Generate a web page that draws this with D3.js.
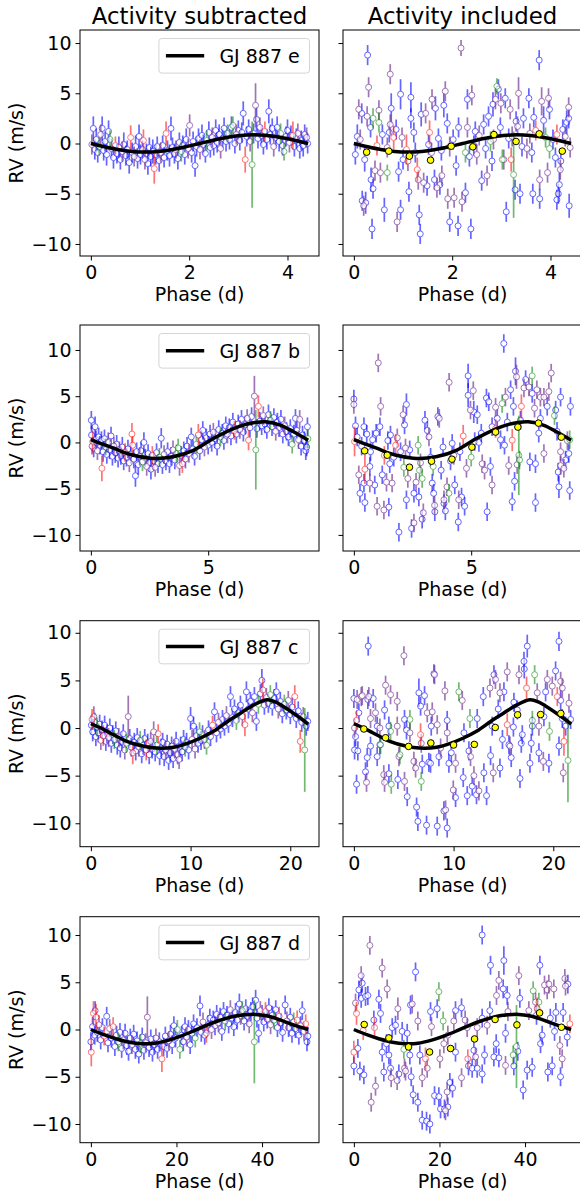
<!DOCTYPE html>
<html>
<head>
<meta charset="utf-8">
<script src="https://cdn.jsdelivr.net/npm/d3@7"></script>
<style>
  body { margin: 0; background: #fff; }
  text { font-family: "DejaVu Sans", sans-serif; }
</style>
</head>
<body>
<div id="chart"></div>
<script>
// planets, orbital periods (phase axis runs 0..P) and tick labels
const planets = ["GJ 887 e", "GJ 887 b", "GJ 887 c", "GJ 887 d"];
const periods = [4.42, 9.26, 21.79, 50.77];
const xTicks = [[0, 2, 4], [0, 5], [0, 10, 20], [0, 20, 40]];
const yTicks = [-10, -5, 0, 5, 10];
const yLimits = [[-11.2, 11.3], [-11.74, 12.7], [-12.46, 11.27], [-11.98, 11.94]];
const columnTitles = ["Activity subtracted", "Activity included"];

// model curves: [phase, rv]
const curveE = [[0,0],[0.28,-0.33],[0.55,-0.6],[0.83,-0.79],[1.1,-0.85],[1.38,-0.79],[1.66,-0.6],[1.93,-0.33],[2.21,0],[2.49,0.33],[2.76,0.6],[3.04,0.79],[3.32,0.86],[3.59,0.79],[3.87,0.6],[4.14,0.33],[4.42,0]];
const curveB = [[0,0.3],[0.5,-0.18],[1,-0.65],[1.5,-1.15],[2,-1.5],[2.67,-1.73],[3.5,-1.55],[4.37,-0.85],[5.2,0.4],[6.08,1.5],[6.6,1.95],[6.93,2.13],[7.43,2.24],[8.07,1.88],[8.64,1.16],[9.26,0.25]];
const curveC = [[0,0.45],[1,0.0],[1.94,-0.52],[3.6,-1.4],[5.3,-1.92],[6.6,-2.1],[8.3,-2.02],[9.6,-1.64],[11,-1.05],[12.3,-0.35],[14,0.9],[15,1.55],[16.3,2.4],[17.65,2.97],[18.5,2.75],[19.3,2.27],[21,1.05],[21.79,0.42]];
const curveD = [[0,0],[3,-0.55],[6,-1.0],[9,-1.35],[12,-1.5],[15,-1.45],[18,-1.15],[21,-0.7],[24,-0.15],[27,0.45],[30,0.95],[33,1.35],[36,1.55],[38.5,1.6],[41,1.45],[44,1.05],[47,0.55],[50.77,0]];

// binned (yellow) points of the activity-included panels: [phase, rv]
const binE = [[0.26,-0.86],[0.71,-0.76],[1.13,-1.26],[1.56,-1.66],[1.98,-0.27],[2.42,-0.33],[2.85,0.89],[3.3,0.2],[3.77,0.96],[4.24,-0.76]];
const binB = [[0.46,-0.91],[1.42,-1.38],[2.37,-2.68],[3.31,-2.03],[4.18,-1.81],[5.03,-0.51],[6.04,1.12],[6.99,1.66],[7.87,2.09],[8.84,0.57]];
const binC = [[1.0,-0.1],[3.18,-1.02],[5.49,-1.93],[7.72,-1.57],[10.0,-1.78],[12.08,-1.72],[14.18,0.06],[16.42,1.39],[18.73,1.42],[20.76,1.53]];
const binD = [[2.42,0.53],[8.18,-0.89],[12.78,-1.85],[17.7,-2.38],[22.6,-2.01],[28.2,-1.0],[33.0,1.06],[38.1,0.49],[43.4,1.76],[48.5,0.24]];

// RV points: [phase, rv, error, instrument]  (b / p / r / g)
const subE = [[0.02,-0.1,1.0,"p"],[0.05,1.5,1.2,"b"],[0.08,-0.6,1.0,"b"],[0.11,0.4,1.1,"b"],[0.14,-0.9,1.0,"b"],[0.17,-0.3,0.9,"g"],[0.2,0.9,1.0,"p"],[0.23,1.5,1.2,"b"],[0.26,-0.7,1.0,"b"],[0.29,0.2,1.0,"b"],[0.32,-1.1,1.1,"b"],[0.36,1.2,1.1,"b"],[0.39,0.4,0.9,"g"],[0.42,-0.5,1.0,"b"],[0.46,-1.4,1.1,"b"],[0.5,-0.2,0.9,"r"],[0.53,-1.0,1.0,"b"],[0.57,-0.4,1.1,"b"],[0.6,-1.6,1.0,"b"],[0.64,-0.8,1.0,"p"],[0.67,-0.1,1.2,"b"],[0.71,-1.2,1.0,"b"],[0.74,-0.6,0.9,"b"],[0.78,-1.9,1.1,"b"],[0.81,0.6,1.2,"r"],[0.84,-0.9,1.0,"b"],[0.88,-1.3,1.0,"p"],[0.91,-0.3,1.1,"b"],[0.95,-1.5,1.0,"b"],[0.98,0.7,1.2,"b"],[1.01,-1.1,1.0,"b"],[1.05,-0.6,0.9,"b"],[1.07,0.3,1.1,"r"],[1.1,-1.6,1.0,"p"],[1.13,-1.0,1.0,"b"],[1.16,-2.0,1.1,"b"],[1.19,-0.4,1.0,"b"],[1.22,-1.3,1.0,"b"],[1.26,-0.8,1.2,"b"],[1.29,-2.5,1.5,"r"],[1.32,-1.1,1.0,"b"],[1.35,-0.3,1.0,"b"],[1.39,-1.7,1.1,"b"],[1.42,-0.9,1.0,"p"],[1.46,-0.2,1.0,"b"],[1.49,-1.4,1.0,"b"],[1.53,1.0,1.2,"r"],[1.56,-0.7,1.0,"b"],[1.6,-1.2,1.1,"b"],[1.63,1.5,1.2,"b"],[1.66,-0.4,1.0,"b"],[1.7,-1.0,1.0,"b"],[1.73,-0.6,0.9,"p"],[1.77,-1.5,1.1,"b"],[1.8,0.1,1.0,"b"],[1.84,-0.8,1.0,"g"],[1.87,-0.2,1.0,"b"],[1.91,-1.1,1.0,"b"],[1.94,0.4,1.1,"b"],[1.98,-0.5,1.0,"p"],[2.01,1.8,1.1,"p"],[2.05,-0.9,1.0,"b"],[2.08,0.2,1.0,"b"],[2.12,-2.2,1.1,"b"],[2.15,-0.3,1.0,"b"],[2.19,0.5,1.0,"b"],[2.22,-0.6,1.0,"p"],[2.26,0.8,1.1,"b"],[2.29,-0.1,1.0,"b"],[2.33,-1.0,0.9,"b"],[2.36,0.3,1.0,"g"],[2.4,1.1,1.1,"b"],[2.43,-0.4,1.0,"b"],[2.47,0.6,1.0,"p"],[2.5,-0.2,1.0,"b"],[2.54,1.3,1.1,"b"],[2.57,0.1,1.0,"b"],[2.61,0.9,1.0,"b"],[2.64,-0.5,1.0,"p"],[2.68,0.5,1.0,"b"],[2.71,1.5,1.1,"b"],[2.75,0.2,1.0,"b"],[2.78,1.0,0.9,"g"],[2.82,0.4,1.0,"b"],[2.86,1.6,1.1,"b"],[2.89,1.8,0.9,"g"],[2.93,0.0,1.0,"b"],[2.96,0.9,1.0,"p"],[3.0,1.3,1.0,"b"],[3.03,0.3,1.0,"b"],[3.07,1.1,1.0,"b"],[3.1,3.0,1.2,"b"],[3.14,-1.6,1.3,"r"],[3.17,0.7,1.0,"b"],[3.21,1.4,1.0,"b"],[3.24,0.2,1.0,"p"],[3.28,-2.1,4.3,"g"],[3.31,1.0,1.0,"b"],[3.35,3.8,2.2,"p"],[3.37,2.4,1.2,"b"],[3.4,0.5,1.0,"b"],[3.44,1.6,1.0,"p"],[3.47,0.8,1.0,"b"],[3.51,-0.1,1.0,"b"],[3.54,1.2,1.0,"r"],[3.58,0.4,1.0,"b"],[3.62,3.2,1.2,"b"],[3.65,0.9,1.0,"b"],[3.69,1.5,1.0,"b"],[3.72,-0.3,1.0,"p"],[3.76,0.6,1.0,"b"],[3.79,1.6,1.1,"b"],[3.83,0.2,1.0,"b"],[3.86,1.0,1.0,"g"],[3.9,-0.2,1.0,"b"],[3.93,-0.8,0.9,"g"],[3.97,0.7,1.0,"b"],[4.0,1.3,1.1,"b"],[4.04,0.1,1.0,"p"],[4.07,0.8,1.0,"b"],[4.11,0.8,1.4,"r"],[4.14,-0.3,1.0,"b"],[4.18,0.5,1.0,"b"],[4.21,1.0,1.0,"p"],[4.25,-0.5,1.0,"b"],[4.28,0.3,1.0,"b"],[4.32,-0.2,1.1,"b"],[4.35,0.9,1.0,"b"],[4.39,0.6,1.0,"p"],[4.41,0.0,1.0,"b"]];

const subB = [[0.02,2.4,1.0,"b"],[0.03,0.8,1.0,"b"],[0.05,-0.4,0.9,"p"],[0.08,0.1,1.2,"r"],[0.12,-0.6,1.0,"b"],[0.18,1.7,1.1,"b"],[0.22,0.3,1.0,"b"],[0.28,-0.9,1.0,"p"],[0.33,0.6,1.0,"b"],[0.38,-0.3,1.0,"b"],[0.47,-2.8,1.4,"r"],[0.45,0.2,1.0,"b"],[0.52,-1.0,1.1,"b"],[0.58,0.4,1.0,"b"],[0.63,-0.5,0.9,"g"],[0.68,-1.3,1.0,"b"],[0.74,0.0,1.1,"p"],[0.8,-0.8,1.0,"b"],[0.86,0.7,1.0,"b"],[0.92,-1.5,1.0,"b"],[0.98,-0.4,1.0,"p"],[1.04,-1.1,1.1,"b"],[1.1,-0.2,1.0,"b"],[1.16,-1.7,1.0,"b"],[1.22,-0.9,1.0,"p"],[1.28,-1.4,1.0,"b"],[1.34,-0.5,1.1,"b"],[1.4,-2.0,1.0,"b"],[1.46,-1.1,1.0,"r"],[1.52,-1.6,1.0,"b"],[1.58,-0.7,1.0,"b"],[1.64,-2.2,1.0,"p"],[1.7,-1.3,1.0,"b"],[1.75,0.9,1.2,"r"],[1.78,-0.3,1.0,"r"],[1.83,-1.8,1.0,"b"],[1.9,-3.6,1.2,"b"],[1.95,-1.0,1.0,"b"],[2.02,-2.4,1.1,"b"],[2.08,-1.5,1.0,"p"],[2.14,-0.9,1.0,"b"],[2.2,-2.1,1.0,"g"],[2.26,0.0,1.1,"b"],[2.32,-1.7,1.0,"b"],[2.38,-2.6,1.0,"p"],[2.44,-1.2,1.0,"b"],[2.5,-2.2,1.0,"b"],[2.56,-2.9,1.1,"b"],[2.62,-1.4,1.0,"r"],[2.68,-2.0,1.0,"b"],[2.74,-2.7,1.0,"p"],[2.8,-1.1,1.0,"b"],[2.86,-2.3,1.0,"b"],[2.92,-1.6,1.0,"g"],[3.0,0.45,1.1,"b"],[3.05,-2.4,1.0,"b"],[3.12,-1.3,1.0,"p"],[3.2,-2.0,1.0,"b"],[3.27,-1.0,1.0,"b"],[3.35,-2.3,1.0,"b"],[3.42,-1.5,1.0,"b"],[3.5,-0.8,1.0,"p"],[3.58,-1.9,1.0,"b"],[3.65,-1.2,1.0,"g"],[3.72,-0.6,1.0,"g"],[3.78,-2.5,1.1,"p"],[3.85,-1.4,1.0,"b"],[3.9,-2.3,1.0,"r"],[3.96,-0.9,1.0,"b"],[4.03,-1.8,1.0,"b"],[4.1,-0.4,1.0,"b"],[4.18,-1.2,1.0,"p"],[4.28,0.6,1.0,"b"],[4.35,-0.7,1.0,"b"],[4.42,-1.5,1.0,"b"],[4.5,-0.2,1.0,"g"],[4.58,0.8,1.2,"r"],[4.64,-0.9,1.0,"b"],[4.72,0.3,1.0,"b"],[4.77,1.3,1.0,"b"],[4.84,-0.5,1.0,"p"],[4.92,0.5,1.0,"b"],[5.0,-0.3,1.0,"b"],[5.08,0.9,1.0,"b"],[5.15,0.0,1.0,"b"],[5.22,1.1,1.0,"p"],[5.3,0.4,1.0,"b"],[5.38,-0.4,1.0,"b"],[5.45,1.4,1.0,"b"],[5.52,0.6,1.0,"g"],[5.6,1.0,1.0,"b"],[5.67,0.2,1.0,"b"],[5.75,1.8,1.0,"b"],[5.82,0.9,1.0,"p"],[5.9,1.6,1.0,"b"],[5.97,0.7,1.0,"b"],[6.05,2.2,1.0,"b"],[6.12,1.3,1.0,"r"],[6.2,0.9,1.0,"b"],[6.28,2.0,1.0,"b"],[6.35,1.4,1.0,"p"],[6.42,2.5,1.0,"b"],[6.5,1.1,1.0,"b"],[6.58,1.9,1.0,"b"],[6.66,2.6,1.0,"p"],[6.72,0.25,1.1,"r"],[6.78,1.6,1.0,"b"],[6.85,2.8,1.0,"b"],[6.97,5.0,2.2,"p"],[7.03,-0.8,4.3,"g"],[7.08,1.5,1.0,"b"],[7.14,3.9,1.2,"r"],[7.2,2.3,1.0,"b"],[7.28,1.8,1.0,"b"],[7.35,2.9,1.0,"p"],[7.42,2.0,1.0,"b"],[7.5,1.4,1.0,"b"],[7.57,3.0,1.1,"b"],[7.65,2.4,1.0,"g"],[7.72,1.7,1.0,"b"],[7.8,2.7,1.0,"b"],[7.88,1.2,1.0,"p"],[7.95,2.2,1.0,"b"],[8.02,1.6,1.0,"b"],[8.1,2.5,1.0,"b"],[8.18,0.9,1.0,"b"],[8.26,1.8,1.0,"p"],[8.34,1.2,1.0,"b"],[8.42,0.6,1.0,"b"],[8.5,1.5,1.0,"b"],[8.58,-0.2,1.0,"g"],[8.65,0.9,1.0,"b"],[8.72,2.6,1.0,"b"],[8.78,1.3,1.0,"b"],[8.85,0.3,1.0,"p"],[8.9,2.5,1.0,"p"],[8.96,-0.4,1.0,"b"],[9.02,0.8,1.0,"b"],[9.1,0.2,1.0,"b"],[9.16,-0.9,1.0,"b"],[9.2,-0.5,1.0,"b"],[9.23,1.7,1.0,"b"],[9.25,0.4,1.0,"g"]];

const subC = [[0.05,0.3,1.0,"b"],[0.12,0.9,1.1,"r"],[0.18,-0.4,1.0,"b"],[0.3,1.2,1.1,"p"],[0.4,0.6,1.0,"b"],[0.5,-0.9,1.0,"b"],[0.62,0.1,1.0,"g"],[0.75,-0.5,1.0,"b"],[0.88,0.4,1.0,"b"],[1.0,-1.3,1.0,"p"],[1.12,-0.2,1.0,"b"],[1.25,-0.8,1.1,"r"],[1.38,0.3,1.0,"b"],[1.5,-1.4,1.0,"b"],[1.62,-0.6,1.0,"b"],[1.78,-1.0,1.0,"p"],[1.9,0.0,1.0,"b"],[2.05,-1.6,1.0,"b"],[2.2,-0.7,1.0,"b"],[2.35,-1.2,1.0,"g"],[2.5,-0.3,1.0,"b"],[2.65,-1.8,1.0,"b"],[2.8,-1.0,1.0,"p"],[2.95,-2.1,1.0,"b"],[3.1,-1.4,1.0,"b"],[3.25,-0.6,1.0,"b"],[3.4,-2.3,1.0,"p"],[3.55,-1.6,1.0,"g"],[3.75,1.2,2.2,"p"],[3.9,-1.1,1.0,"b"],[4.05,-2.0,1.0,"b"],[4.2,-2.6,1.2,"r"],[4.35,-1.5,1.0,"b"],[4.5,-2.4,1.0,"b"],[4.65,-1.0,1.0,"b"],[4.8,-2.0,1.0,"p"],[4.95,-1.3,1.0,"g"],[5.1,-2.7,1.0,"b"],[5.25,-1.8,1.0,"b"],[5.4,-1.1,1.0,"b"],[5.55,-2.3,1.1,"r"],[5.7,-1.6,1.0,"b"],[5.85,-2.8,1.0,"b"],[6.0,-1.4,1.0,"p"],[6.15,-2.2,1.0,"b"],[6.3,-0.4,1.1,"p"],[6.45,-2.5,1.0,"b"],[6.6,-1.8,1.0,"g"],[6.75,-0.6,1.0,"r"],[6.9,-2.9,1.0,"b"],[7.05,-2.1,1.0,"b"],[7.2,-1.5,1.0,"b"],[7.35,-3.0,1.0,"b"],[7.5,-2.3,1.0,"p"],[7.65,-1.7,1.0,"b"],[7.8,-3.4,1.0,"b"],[7.95,-2.6,1.0,"b"],[8.1,-1.9,1.0,"b"],[8.25,-3.2,1.0,"b"],[8.4,-2.2,1.0,"p"],[8.55,-1.4,1.0,"b"],[8.7,-2.8,1.0,"b"],[8.85,-3.3,1.0,"p"],[9.0,-1.9,1.0,"b"],[9.15,-2.5,1.0,"b"],[9.3,-1.2,1.0,"b"],[9.45,-2.0,1.0,"g"],[9.6,-1.5,1.0,"b"],[9.8,-2.3,1.0,"b"],[10.0,1.0,1.2,"b"],[10.15,-1.2,1.0,"p"],[10.3,0.2,1.0,"b"],[10.45,-2.2,1.0,"p"],[10.6,-0.8,1.0,"b"],[10.75,-1.6,1.0,"b"],[10.9,-0.4,1.0,"g"],[11.05,-1.3,1.0,"b"],[11.2,-0.7,1.0,"b"],[11.4,-1.2,1.0,"p"],[11.6,-1.8,1.0,"g"],[11.8,-0.2,1.0,"b"],[12.0,-0.9,1.0,"b"],[12.2,0.3,1.0,"r"],[12.4,1.7,1.0,"b"],[12.6,-0.5,1.0,"b"],[12.8,0.6,1.0,"p"],[13.0,-0.1,1.0,"b"],[13.2,0.9,1.0,"b"],[13.4,0.2,1.0,"b"],[13.6,1.3,1.0,"p"],[13.8,0.5,1.0,"b"],[14.0,3.3,1.1,"b"],[14.2,1.1,1.0,"b"],[14.4,2.0,1.0,"b"],[14.6,0.8,1.0,"g"],[14.8,1.6,1.0,"b"],[15.0,2.4,1.0,"b"],[15.2,1.2,1.0,"p"],[15.45,0.35,1.2,"r"],[15.6,3.8,1.1,"b"],[15.8,2.0,1.0,"b"],[16.0,2.8,1.0,"b"],[16.2,1.6,1.0,"p"],[16.4,3.3,1.0,"b"],[16.6,0.7,1.0,"b"],[16.8,2.5,1.0,"g"],[17.0,3.6,1.0,"b"],[17.15,5.0,1.2,"b"],[17.25,4.0,1.2,"r"],[17.4,2.4,1.0,"b"],[17.6,3.2,1.0,"p"],[17.8,2.6,1.0,"b"],[18.0,3.5,1.0,"g"],[18.2,2.3,1.0,"b"],[18.4,3.1,1.0,"b"],[18.6,3.8,1.0,"b"],[18.8,2.0,1.0,"p"],[19.0,2.8,1.0,"b"],[19.2,1.5,1.0,"b"],[19.4,2.5,1.0,"g"],[19.6,1.9,1.0,"b"],[19.8,2.9,1.0,"p"],[20.0,1.4,1.0,"b"],[20.2,2.2,1.0,"b"],[20.45,3.3,1.2,"r"],[20.6,1.0,1.0,"b"],[20.8,1.8,1.0,"b"],[21.0,-1.4,1.2,"r"],[21.15,0.6,1.0,"b"],[21.3,1.2,1.0,"p"],[21.45,-2.3,4.4,"g"],[21.6,0.2,1.0,"b"],[21.75,0.7,1.0,"b"]];

const subD = [[0.0,-1.3,1.0,"b"],[0.1,-2.4,1.5,"r"],[0.4,0.3,1.0,"b"],[0.6,1.7,1.3,"r"],[0.9,-0.6,1.0,"b"],[1.0,2.0,1.0,"b"],[1.2,1.3,1.4,"r"],[1.5,-0.3,1.0,"b"],[1.9,0.5,1.0,"p"],[2.3,-1.1,1.0,"b"],[2.7,0.2,1.0,"b"],[3.1,-0.7,1.0,"r"],[3.7,1.4,1.0,"b"],[4.0,-1.4,1.0,"b"],[4.4,0.1,1.0,"p"],[4.8,-0.9,1.0,"b"],[5.2,0.3,1.0,"r"],[5.6,-1.8,1.0,"b"],[6.0,-0.6,1.0,"b"],[6.4,-1.3,1.0,"g"],[6.8,-0.3,1.0,"b"],[7.2,-2.0,1.0,"b"],[7.6,-1.1,1.0,"p"],[8.0,-0.4,1.0,"b"],[8.4,-1.7,1.0,"b"],[8.8,-2.3,1.0,"b"],[9.2,-0.9,1.0,"b"],[9.6,-1.6,1.0,"p"],[10.0,-0.5,1.0,"b"],[10.4,-2.1,1.0,"b"],[10.8,-1.2,1.0,"b"],[11.2,-2.6,1.0,"b"],[11.6,-1.5,1.0,"g"],[12.0,-0.8,1.0,"b"],[12.4,-2.2,1.0,"b"],[12.8,-1.4,1.0,"p"],[13.2,1.3,2.2,"p"],[13.6,-1.9,1.0,"b"],[14.0,-1.0,1.0,"b"],[14.4,-2.4,1.0,"b"],[14.8,-1.6,1.0,"b"],[15.2,-0.9,1.0,"p"],[15.6,-2.1,1.0,"b"],[16.0,-1.3,1.0,"b"],[16.6,-3.1,1.4,"r"],[17.0,-1.8,1.0,"b"],[17.4,-0.7,1.0,"b"],[17.8,-2.0,1.0,"b"],[18.2,-1.2,1.0,"p"],[18.6,-0.5,1.0,"b"],[19.0,-1.6,1.0,"b"],[19.4,0.4,1.0,"b"],[19.8,-0.9,1.0,"b"],[20.2,0.0,1.0,"g"],[20.8,-2.1,1.0,"g"],[21.2,-0.6,1.0,"b"],[21.6,-1.3,1.0,"b"],[22.0,0.3,1.0,"b"],[22.4,-0.8,1.0,"p"],[22.8,0.0,1.0,"b"],[23.2,-1.6,1.0,"b"],[23.6,-0.4,1.0,"b"],[24.0,0.6,1.0,"b"],[24.4,-0.9,1.0,"g"],[24.8,0.2,1.0,"b"],[25.5,2.5,1.1,"b"],[25.8,-0.3,1.0,"b"],[26.2,0.8,1.0,"p"],[26.6,-0.6,1.0,"b"],[27.0,-0.4,1.0,"r"],[27.4,0.5,1.0,"b"],[27.8,1.2,1.0,"b"],[28.2,0.0,1.0,"p"],[28.6,1.0,1.0,"b"],[29.0,0.4,1.0,"b"],[29.4,1.6,1.0,"b"],[29.8,0.7,1.0,"p"],[30.2,1.3,1.0,"b"],[30.6,-0.2,1.0,"b"],[31.0,1.9,1.0,"b"],[31.4,0.9,1.0,"g"],[31.8,1.5,1.0,"b"],[32.2,0.6,1.0,"b"],[32.6,2.1,1.0,"p"],[33.0,1.2,1.0,"b"],[33.4,0.3,1.0,"b"],[33.8,1.8,1.0,"b"],[34.2,1.0,1.0,"b"],[34.7,2.7,1.1,"b"],[35.0,1.5,1.0,"p"],[35.4,2.0,1.0,"g"],[35.8,0.9,1.0,"b"],[36.2,2.2,1.0,"b"],[36.6,1.4,1.0,"b"],[37.0,0.6,1.0,"p"],[37.4,1.9,1.0,"b"],[37.8,2.4,1.0,"b"],[38.2,-1.3,4.4,"g"],[38.5,3.1,1.1,"b"],[38.8,1.2,1.0,"b"],[39.2,-0.4,1.0,"b"],[39.6,2.0,1.0,"p"],[40.0,1.6,1.0,"b"],[40.4,0.8,1.0,"b"],[40.8,1.9,1.0,"r"],[41.2,1.1,1.0,"b"],[41.6,2.3,1.0,"b"],[42.0,0.5,1.0,"p"],[42.4,1.5,1.0,"b"],[42.8,1.0,1.0,"g"],[43.2,2.1,1.0,"b"],[43.6,0.2,1.0,"b"],[44.0,1.4,1.0,"r"],[44.4,0.7,1.0,"b"],[44.8,-0.3,1.0,"b"],[45.4,2.6,1.0,"b"],[45.8,0.9,1.0,"p"],[46.2,0.2,1.0,"b"],[46.6,1.3,1.0,"b"],[47.0,-0.4,1.0,"b"],[47.4,0.8,1.0,"g"],[47.8,0.1,1.0,"b"],[48.2,1.0,1.0,"r"],[48.6,-0.6,1.0,"b"],[49.0,0.4,1.0,"b"],[49.4,2.0,1.0,"b"],[49.8,-0.2,1.0,"p"],[50.2,0.6,1.0,"r"],[50.5,-1.3,1.0,"b"],[50.7,-0.7,1.0,"b"]];

const incE = [[0.03,-1.1,1.0,"b"],[0.07,0.7,1.2,"b"],[0.1,3.4,1.0,"p"],[0.13,0.4,1.0,"p"],[0.16,3.0,1.0,"b"],[0.17,-5.7,1.0,"b"],[0.2,-6.2,1.0,"p"],[0.22,-1.6,1.2,"b"],[0.24,-5.9,1.1,"b"],[0.28,8.8,1.0,"b"],[0.27,2.7,1.0,"p"],[0.3,5.6,1.0,"p"],[0.34,1.6,1.0,"b"],[0.35,-3.6,1.2,"b"],[0.37,-8.5,1.0,"b"],[0.39,-4.5,1.0,"b"],[0.39,2.5,1.0,"g"],[0.43,-2.7,1.0,"p"],[0.47,-0.2,1.0,"r"],[0.51,2.1,1.0,"g"],[0.51,3.3,1.0,"p"],[0.54,-2.9,1.0,"p"],[0.58,0.9,1.0,"b"],[0.62,-6.6,1.2,"b"],[0.68,-0.4,1.0,"p"],[0.68,-2.9,0.8,"g"],[0.72,1.1,1.0,"b"],[0.74,6.9,1.0,"p"],[0.74,1.9,1.0,"p"],[0.76,3.5,1.5,"b"],[0.81,0.6,1.2,"r"],[0.86,1.4,1.0,"b"],[0.88,-7.8,1.0,"p"],[0.91,-2.8,1.0,"b"],[0.95,4.9,1.5,"b"],[0.95,-6.6,1.0,"b"],[0.98,0.6,1.0,"p"],[1.0,-1.6,1.0,"b"],[1.07,-0.6,1.5,"r"],[1.1,-1.75,1.0,"p"],[1.12,-4.8,1.0,"b"],[1.16,4.6,1.5,"b"],[1.16,2.5,1.0,"b"],[1.22,1.1,1.0,"b"],[1.25,-0.9,1.0,"b"],[1.29,-2.6,1.2,"r"],[1.31,-3.6,1.0,"p"],[1.33,-7.1,1.0,"b"],[1.35,-9.0,1.0,"b"],[1.37,2.9,1.2,"b"],[1.42,-3.9,1.0,"p"],[1.46,3.0,1.0,"p"],[1.49,-4.2,1.0,"b"],[1.52,-0.1,1.0,"b"],[1.54,1.1,1.2,"r"],[1.58,-0.9,1.0,"p"],[1.59,4.4,1.0,"p"],[1.64,-3.6,1.0,"b"],[1.66,3.5,1.2,"b"],[1.69,-4.4,1.0,"p"],[1.72,0.5,1.0,"b"],[1.75,-4.1,1.0,"b"],[1.78,-0.7,1.0,"b"],[1.79,-3.2,1.0,"p"],[1.83,3.8,1.2,"b"],[1.86,5.2,1.0,"p"],[1.9,2.0,1.0,"b"],[1.91,-5.5,1.0,"p"],[1.95,-7.8,1.0,"b"],[1.95,-0.3,1.0,"p"],[2.02,0.4,1.0,"b"],[2.04,-5.4,1.0,"p"],[2.08,-2.2,1.0,"b"],[2.12,-8.2,1.0,"b"],[2.13,1.6,1.0,"b"],[2.18,9.5,0.8,"p"],[2.2,-5.8,1.0,"p"],[2.27,-4.9,1.0,"b"],[2.27,-0.9,1.0,"g"],[2.31,4.4,1.0,"b"],[2.31,1.6,1.0,"p"],[2.35,-1.3,1.0,"b"],[2.38,-8.5,1.0,"b"],[2.4,4.8,1.0,"p"],[2.44,-0.2,1.0,"b"],[2.47,1.2,1.0,"b"],[2.5,-1.1,1.0,"p"],[2.55,0.8,1.0,"p"],[2.6,-3.7,1.0,"b"],[2.64,1.9,1.0,"b"],[2.68,-0.5,1.0,"b"],[2.71,-3.2,1.0,"p"],[2.74,2.7,1.0,"b"],[2.78,0.2,1.0,"g"],[2.81,-1.75,1.0,"b"],[2.83,3.9,1.2,"b"],[2.84,0.4,1.0,"p"],[2.88,4.4,1.0,"p"],[2.91,5.7,0.8,"g"],[2.94,5.4,1.0,"b"],[2.98,1.6,1.0,"b"],[2.99,4.0,1.0,"p"],[3.02,-1.6,1.0,"g"],[3.05,-1.6,1.0,"p"],[3.08,4.5,1.0,"b"],[3.1,-6.8,1.0,"b"],[3.15,0.5,1.0,"b"],[3.18,3.4,1.0,"p"],[3.2,-1.6,1.2,"r"],[3.22,0.7,1.0,"p"],[3.25,-3.1,4.3,"g"],[3.28,-4.6,1.0,"b"],[3.3,2.2,1.0,"b"],[3.33,1.7,1.0,"p"],[3.35,5.0,1.6,"p"],[3.38,-5.0,1.0,"b"],[3.42,-0.3,1.0,"b"],[3.45,2.5,1.0,"b"],[3.52,-0.5,1.0,"p"],[3.56,4.5,1.0,"b"],[3.58,1.0,1.0,"p"],[3.62,-0.9,1.0,"b"],[3.64,-5.0,1.0,"b"],[3.66,2.6,1.0,"b"],[3.7,1.3,1.0,"r"],[3.77,8.3,1.0,"b"],[3.78,-3.6,1.0,"p"],[3.78,-5.5,1.0,"b"],[3.82,4.2,1.4,"p"],[3.86,2.3,1.4,"b"],[3.9,0.6,1.0,"g"],[3.94,-2.9,1.0,"p"],[3.96,4.5,1.0,"p"],[3.98,3.4,1.0,"b"],[3.98,-0.5,1.0,"g"],[4.05,0.4,1.0,"b"],[4.1,-1.4,1.0,"b"],[4.13,0.9,1.0,"r"],[4.13,-5.6,1.0,"b"],[4.16,-5.0,1.0,"b"],[4.18,-4.1,1.2,"b"],[4.2,-2.6,1.0,"p"],[4.21,-1.75,1.0,"b"],[4.25,1.4,1.0,"b"],[4.3,0.7,1.0,"p"],[4.33,2.1,1.2,"b"],[4.37,3.6,1.0,"p"],[4.37,2.5,1.0,"b"],[4.38,-6.2,1.2,"b"],[4.4,-0.4,1.0,"p"]];

const incB = [[0.0,4.7,1.0,"b"],[0.0,4.1,1.0,"p"],[0.03,0.1,1.6,"r"],[0.07,1.8,1.0,"b"],[0.14,0.6,1.0,"b"],[0.21,-3.5,1.0,"p"],[0.26,-5.5,1.0,"b"],[0.33,-0.4,1.0,"b"],[0.43,1.7,1.0,"b"],[0.47,-2.9,1.6,"r"],[0.43,-4.4,1.0,"b"],[0.47,-6.5,1.0,"b"],[0.55,0.9,1.0,"b"],[0.68,-2.6,1.0,"b"],[0.68,-4.4,1.0,"p"],[0.71,-1.0,1.0,"b"],[0.8,0.3,1.0,"b"],[0.89,-4.6,1.0,"b"],[0.95,1.0,1.0,"b"],[0.99,-6.9,1.0,"p"],[1.04,8.6,1.0,"p"],[1.14,3.9,1.0,"p"],[1.11,1.7,1.0,"b"],[1.21,-3.5,1.0,"b"],[1.28,-7.3,1.0,"p"],[1.3,-1.4,1.0,"r"],[1.39,-4.3,1.0,"p"],[1.45,0.2,1.0,"b"],[1.49,-7.0,1.0,"b"],[1.53,-2.3,1.0,"b"],[1.56,0.8,1.0,"b"],[1.63,-4.4,1.0,"p"],[1.7,-1.6,1.0,"b"],[1.78,-0.3,1.2,"r"],[1.85,0.5,1.0,"p"],[1.92,-9.7,1.0,"b"],[1.99,-1.0,1.0,"b"],[2.1,3.0,1.0,"p"],[2.13,-2.7,1.0,"g"],[2.16,1.9,1.0,"b"],[2.2,-0.6,1.0,"p"],[2.24,4.1,1.2,"b"],[2.24,-6.2,1.0,"b"],[2.3,-3.9,1.0,"p"],[2.38,-0.8,1.0,"b"],[2.46,-9.3,1.0,"b"],[2.56,-8.7,1.0,"p"],[2.56,-5.5,1.0,"b"],[2.65,-4.3,1.0,"p"],[2.74,-0.3,1.0,"g"],[2.77,-5.9,1.0,"b"],[2.8,-3.0,1.0,"g"],[2.84,-2.2,1.0,"p"],[2.91,-3.9,1.0,"g"],[2.91,-8.3,1.0,"b"],[2.96,-7.6,1.0,"p"],[3.03,2.4,1.0,"b"],[3.13,1.3,1.0,"b"],[3.2,0.6,1.0,"p"],[3.27,-1.6,1.0,"b"],[3.34,-4.4,1.0,"b"],[3.4,-5.5,1.0,"b"],[3.44,-6.8,1.0,"p"],[3.45,-7.5,1.0,"b"],[3.38,-2.6,1.0,"g"],[3.58,2.8,1.0,"b"],[3.64,2.6,1.0,"p"],[3.72,-3.0,1.0,"b"],[3.8,-0.5,1.0,"b"],[3.84,-6.6,1.0,"b"],[3.84,-6.2,1.0,"p"],[3.97,-4.8,1.0,"p"],[4.05,-5.5,1.0,"g"],[4.06,6.5,1.0,"p"],[3.9,-7.4,1.0,"b"],[4.12,-2.0,1.0,"b"],[4.19,-0.1,1.0,"b"],[4.26,-1.4,1.0,"p"],[4.3,-4.6,1.0,"b"],[4.45,-8.6,1.0,"b"],[4.47,-6.2,1.0,"p"],[4.52,-1.0,1.0,"b"],[4.59,-5.9,1.0,"b"],[4.66,0.7,1.2,"r"],[4.72,-6.9,1.0,"b"],[4.8,-2.8,1.0,"p"],[4.87,7.2,1.3,"b"],[4.87,5.1,1.3,"b"],[4.97,3.5,1.0,"p"],[5.0,-1.6,1.0,"g"],[5.09,5.6,1.0,"p"],[5.11,3.3,1.2,"b"],[5.15,0.1,1.0,"b"],[5.26,3.0,1.0,"b"],[5.33,0.0,1.0,"b"],[5.43,1.0,1.0,"b"],[5.47,-2.3,1.0,"p"],[5.57,-3.0,1.0,"p"],[5.65,4.8,1.0,"b"],[5.68,-7.5,1.0,"b"],[5.75,4.4,1.0,"b"],[5.82,-2.6,1.0,"b"],[5.89,-4.6,1.0,"p"],[5.89,1.7,1.0,"b"],[6.04,3.8,1.0,"p"],[6.04,1.5,1.0,"r"],[6.11,2.6,1.0,"b"],[6.32,4.2,1.0,"g"],[6.25,0.3,1.0,"b"],[6.39,10.7,1.0,"b"],[6.42,-0.3,1.0,"b"],[6.46,4.9,1.0,"p"],[6.54,2.2,1.0,"b"],[6.6,-2.5,1.0,"p"],[6.68,5.7,1.0,"b"],[6.75,-6.4,1.0,"b"],[6.75,0.25,1.2,"r"],[6.8,3.9,1.0,"b"],[6.85,-4.2,1.0,"b"],[6.89,7.7,1.5,"b"],[6.93,7.1,1.3,"p"],[6.96,-2.4,1.0,"p"],[7.03,-1.4,4.3,"g"],[7.06,-1.9,1.0,"g"],[7.14,3.9,1.3,"r"],[7.1,2.4,1.0,"b"],[7.25,5.9,1.0,"p"],[7.32,6.8,1.0,"b"],[7.46,6.0,1.0,"p"],[7.5,-2.1,1.0,"b"],[7.6,5.3,1.0,"b"],[7.6,7.2,1.0,"g"],[7.74,-6.5,1.0,"b"],[7.7,3.7,1.0,"p"],[7.74,-2.3,1.0,"b"],[7.8,5.7,1.0,"p"],[7.88,1.0,1.0,"b"],[7.95,4.9,1.0,"p"],[7.95,2.6,1.0,"b"],[8.1,-1.2,1.0,"p"],[8.1,4.9,1.0,"p"],[8.24,3.9,1.0,"b"],[8.31,5.5,1.0,"p"],[8.41,7.5,1.0,"p"],[8.55,2.9,1.0,"g"],[8.6,3.5,1.0,"b"],[8.66,1.2,1.0,"b"],[8.81,-2.5,1.0,"p"],[8.74,-4.8,1.2,"b"],[8.71,-3.2,1.0,"b"],[8.81,4.9,1.0,"b"],[8.95,-2.8,1.0,"p"],[9.02,-1.9,1.0,"b"],[9.1,0.2,1.0,"p"],[9.2,0.3,1.0,"g"],[9.2,-5.2,1.0,"b"],[9.23,3.9,1.0,"b"],[9.16,-1.2,1.0,"b"],[8.81,-1.0,1.0,"p"]];

const incC = [[0.0,3.1,1.0,"b"],[0.07,0.0,1.0,"p"],[0.07,-2.3,1.0,"b"],[0.27,0.8,1.0,"r"],[0.27,-5.9,1.0,"b"],[0.17,-0.9,1.0,"b"],[0.33,3.0,1.0,"p"],[0.4,-2.4,1.0,"b"],[0.5,1.6,1.0,"b"],[0.74,3.3,1.0,"p"],[0.84,3.4,1.0,"p"],[1.17,-4.6,1.0,"b"],[1.27,-5.7,1.0,"p"],[1.34,-3.1,1.0,"b"],[1.44,8.6,1.0,"b"],[1.4,3.0,1.0,"b"],[1.5,3.3,1.0,"p"],[1.67,1.0,1.0,"p"],[1.67,-1.9,1.0,"b"],[1.94,3.1,1.0,"b"],[2.17,1.6,1.0,"p"],[2.34,-3.0,1.0,"b"],[2.34,0.2,1.0,"b"],[2.61,0.0,1.0,"p"],[2.61,-1.75,1.0,"b"],[2.68,-1.75,1.0,"g"],[3.0,-4.9,1.0,"p"],[3.08,-5.7,1.0,"p"],[3.18,4.5,1.0,"p"],[3.08,1.9,1.0,"b"],[3.51,-4.8,1.0,"b"],[3.51,0.2,1.0,"b"],[3.68,3.5,1.0,"p"],[3.75,-5.9,1.0,"g"],[3.68,-0.35,1.0,"g"],[4.35,2.8,1.0,"p"],[4.35,0.2,1.0,"p"],[4.41,-5.4,1.0,"b"],[4.52,-3.0,1.0,"p"],[4.62,-2.8,1.0,"g"],[5.02,7.6,1.0,"p"],[5.08,-5.6,1.0,"p"],[5.08,0.9,1.0,"b"],[5.28,-0.2,1.0,"b"],[5.35,-7.2,1.0,"b"],[5.62,0.9,1.0,"g"],[5.62,-0.5,1.0,"p"],[6.02,-3.5,1.0,"p"],[6.19,-4.2,1.0,"p"],[6.29,-8.3,1.0,"b"],[6.42,-9.8,1.0,"b"],[6.52,3.7,1.5,"b"],[6.69,2.3,1.0,"b"],[6.76,-5.6,1.0,"g"],[6.69,-0.7,1.2,"r"],[6.76,-1.6,1.0,"p"],[6.86,-3.8,1.0,"b"],[7.09,3.4,1.0,"b"],[7.29,-10.2,1.0,"b"],[7.36,1.6,1.0,"p"],[7.52,-3.6,1.0,"b"],[7.69,-3.7,1.0,"b"],[7.76,0.2,1.0,"b"],[7.86,1.7,1.0,"p"],[8.03,5.7,1.0,"b"],[8.09,5.6,1.0,"p"],[8.36,-10.3,1.0,"b"],[8.36,0.35,1.0,"p"],[8.53,-3.0,1.0,"b"],[8.7,-2.1,1.0,"p"],[9.13,3.9,1.0,"p"],[9.03,-8.7,1.0,"b"],[9.2,-8.6,1.0,"p"],[9.36,0.8,1.0,"b"],[9.36,-0.5,1.0,"p"],[9.36,-10.5,1.0,"b"],[9.53,-3.7,1.0,"b"],[9.97,-6.5,1.0,"p"],[9.77,-2.6,1.0,"b"],[10.2,-3.7,1.0,"p"],[10.2,-7.3,1.0,"b"],[10.53,3.8,1.0,"g"],[10.87,2.9,1.0,"p"],[10.97,-5.2,1.0,"b"],[11.04,-0.5,1.0,"b"],[11.37,-7.1,1.0,"b"],[11.64,1.0,1.0,"g"],[11.7,-3.0,1.0,"p"],[11.54,-2.4,1.0,"b"],[11.87,-6.1,1.0,"b"],[12.04,-5.0,1.0,"p"],[12.3,-7.0,1.0,"b"],[12.37,1.0,1.0,"b"],[12.54,-6.6,1.0,"p"],[12.98,3.3,1.0,"b"],[13.04,-4.7,1.0,"b"],[13.31,-7.1,1.0,"b"],[13.65,4.2,1.0,"p"],[13.71,-2.9,1.0,"b"],[13.87,0.2,1.0,"b"],[13.98,-4.7,1.0,"p"],[14.05,5.6,1.0,"b"],[14.2,5.1,1.0,"p"],[14.48,2.0,1.0,"b"],[14.65,3.7,1.0,"p"],[14.65,-4.2,1.0,"b"],[14.9,-1.2,1.0,"b"],[15.05,3.8,1.0,"b"],[15.38,5.9,1.0,"p"],[15.38,0.35,1.2,"r"],[15.55,-1.75,1.0,"b"],[15.65,-1.9,1.0,"p"],[15.78,-3.1,1.0,"b"],[16.0,0.1,1.0,"b"],[16.05,2.7,1.0,"b"],[16.39,1.9,1.0,"b"],[16.56,5.6,1.0,"p"],[16.66,-5.3,1.0,"b"],[17.32,4.2,1.2,"r"],[17.09,6.2,1.0,"b"],[17.06,7.0,1.0,"b"],[17.39,8.6,1.2,"b"],[16.79,-1.6,1.0,"b"],[16.89,-0.7,1.0,"b"],[17.66,-3.7,1.0,"b"],[17.79,-1.6,1.0,"b"],[17.9,0.2,1.0,"b"],[18.13,5.6,1.0,"g"],[17.9,0.8,1.0,"g"],[18.39,3.7,1.0,"p"],[18.56,-2.6,1.0,"b"],[18.56,0.2,1.0,"p"],[19.0,-3.5,1.0,"p"],[19.06,1.2,1.0,"b"],[19.23,3.8,1.0,"b"],[19.4,5.1,1.0,"p"],[19.62,-0.35,1.0,"g"],[19.56,-3.7,1.0,"b"],[19.9,4.4,1.0,"p"],[20.23,6.0,1.0,"b"],[20.57,9.1,1.0,"b"],[20.57,-1.9,1.0,"b"],[20.4,3.3,1.0,"r"],[20.74,4.9,1.0,"p"],[20.74,2.9,1.0,"b"],[20.9,4.2,1.0,"p"],[21.0,-4.7,1.0,"p"],[21.07,-1.4,1.5,"r"],[21.47,-3.4,4.4,"g"],[21.74,0.9,1.0,"b"],[21.57,2.6,1.0,"p"],[21.24,0.2,1.0,"b"],[20.9,1.0,1.0,"b"]];

const incD = [[0.0,-3.85,1.0,"b"],[0.0,-2.4,1.2,"r"],[0.39,2.8,1.0,"p"],[0.62,1.7,1.2,"r"],[0.93,-2.0,1.0,"b"],[1.17,4.2,1.0,"b"],[1.4,-4.4,1.0,"b"],[1.71,5.7,1.0,"p"],[1.71,3.3,1.0,"b"],[1.95,4.9,1.0,"b"],[2.34,-4.8,1.0,"b"],[2.18,-0.1,1.0,"r"],[2.73,3.5,1.0,"b"],[3.27,3.6,1.0,"b"],[3.74,8.9,1.0,"p"],[4.05,-7.7,1.0,"p"],[5.06,-6.0,1.0,"p"],[4.67,1.0,1.0,"b"],[4.83,0.2,1.0,"r"],[5.84,3.2,1.0,"b"],[6.62,6.5,1.0,"p"],[6.23,1.7,1.0,"b"],[6.62,-2.4,1.0,"b"],[7.0,-4.5,1.0,"b"],[7.79,4.3,1.0,"p"],[7.63,-1.5,1.0,"b"],[8.18,-2.7,1.0,"b"],[8.57,-4.1,1.0,"b"],[8.72,-5.1,1.0,"p"],[8.96,0.2,1.0,"b"],[10.28,2.2,1.2,"p"],[9.73,0.45,1.0,"b"],[10.12,-5.4,1.0,"p"],[10.51,-4.7,1.0,"b"],[11.29,-0.2,1.0,"b"],[11.68,-2.1,1.0,"g"],[11.84,-4.1,1.0,"p"],[12.07,-4.4,1.0,"p"],[12.46,-0.4,1.0,"b"],[13.08,-2.7,1.0,"b"],[13.24,2.6,1.0,"b"],[13.4,-5.0,1.0,"b"],[13.86,-6.9,1.0,"b"],[13.63,2.7,1.0,"p"],[14.41,6.1,1.0,"b"],[14.95,-7.7,1.0,"b"],[14.95,0.9,1.0,"p"],[15.42,-2.7,1.0,"b"],[15.97,-5.1,1.0,"p"],[15.97,-9.6,1.0,"b"],[16.98,-9.7,1.0,"b"],[16.74,-3.1,1.2,"r"],[17.13,-4.1,1.0,"p"],[17.76,-10.0,1.0,"b"],[17.91,1.9,1.0,"b"],[18.14,0.3,1.0,"p"],[18.85,-7.0,1.0,"b"],[19.47,2.2,1.0,"b"],[19.86,-7.1,1.0,"b"],[19.86,4.0,1.0,"g"],[20.1,-3.1,1.0,"p"],[20.25,-8.4,1.0,"b"],[20.87,0.9,1.0,"g"],[21.03,-1.5,1.0,"p"],[21.18,-8.4,1.0,"b"],[21.42,-8.6,1.0,"p"],[21.96,-8.2,1.0,"b"],[21.8,-6.6,1.0,"p"],[22.43,-5.6,1.0,"b"],[21.96,-0.6,1.0,"p"],[23.05,-6.2,1.0,"b"],[23.36,0.9,1.0,"p"],[23.75,-2.4,1.0,"b"],[23.75,2.0,1.0,"b"],[25.16,-5.1,1.0,"p"],[25.16,2.3,1.0,"b"],[26.0,1.0,1.0,"p"],[26.63,-3.1,1.0,"r"],[26.48,0.2,1.0,"p"],[26.79,-3.85,1.0,"b"],[27.65,-4.1,1.0,"b"],[28.04,-2.2,1.0,"b"],[28.43,-2.9,1.0,"p"],[28.82,0.2,1.0,"p"],[28.82,-4.1,1.0,"b"],[29.98,1.2,1.0,"b"],[29.98,-4.7,1.0,"b"],[29.98,10.0,1.0,"b"],[30.53,-2.7,1.0,"b"],[31.15,0.45,1.0,"p"],[31.93,6.8,1.0,"b"],[31.77,2.0,1.0,"b"],[32.71,-2.9,1.0,"b"],[33.26,-1.5,1.0,"b"],[33.33,3.6,1.0,"p"],[33.88,5.2,1.0,"p"],[33.88,-3.0,1.0,"b"],[34.89,4.3,1.0,"b"],[35.05,7.3,1.5,"b"],[35.44,-0.4,1.0,"b"],[35.44,-3.8,1.0,"p"],[35.83,3.6,1.0,"b"],[36.0,1.9,1.0,"p"],[37.22,-2.7,1.0,"g"],[37.38,-3.85,1.0,"b"],[38.0,-1.8,4.4,"g"],[38.31,-2.3,1.0,"b"],[38.55,5.7,1.0,"p"],[38.78,3.3,1.0,"b"],[39.56,-6.4,1.0,"b"],[40.5,-4.3,1.0,"b"],[40.89,2.0,1.0,"p"],[41.67,-4.0,1.0,"b"],[41.9,4.1,1.0,"g"],[42.45,2.9,1.0,"p"],[42.68,1.5,1.0,"b"],[42.84,2.2,1.2,"r"],[43.23,2.9,1.0,"g"],[43.46,6.8,1.0,"b"],[43.62,-1.5,1.0,"b"],[44.55,4.7,1.0,"p"],[45.17,4.2,1.0,"p"],[45.33,-4.5,1.0,"b"],[45.56,4.8,1.0,"p"],[46.34,-3.85,1.0,"b"],[46.73,4.3,1.0,"p"],[46.89,-0.2,1.0,"b"],[47.2,1.8,1.0,"b"],[48.13,-1.7,1.0,"p"],[48.29,-5.0,1.0,"b"],[48.68,-3.1,1.0,"p"],[49.3,5.4,1.0,"p"],[49.46,4.6,1.0,"p"],[50.0,4.8,1.0,"b"],[50.47,0.6,1.0,"r"],[49.85,-0.8,1.0,"b"],[48.9,1.8,1.0,"b"],[45.9,1.2,1.0,"b"],[44.0,-0.6,1.0,"b"]];

const subtracted = [subE, subB, subC, subD];
const included = [incE, incB, incC, incD];
const curves = [curveE, curveB, curveC, curveD];
const bins = [binE, binB, binC, binD];

// instrument colours and draw order
const instColor = { b: "#0000ff", p: "#7a3b96", r: "#ff0000", g: "#008000" };
const instAlpha = { b: 0.6, p: 0.7, r: 0.55, g: 0.55 };
const drawOrder = ["b", "p", "g", "r"];

// layout
const W = 580, H = 1193;
const axW = 239, axH = 226;
const colLeft = [80, 343];
const rowTop = [30, 325, 620.7, 916.7];
const baseFont = 19;

const svg = d3.select("#chart").append("svg")
  .attr("width", W).attr("height", H)
  .style("background", "#fff");

const defs = svg.append("defs");

for (let r = 0; r < 4; r++) {
  const P = periods[r];
  for (let c = 0; c < 2; c++) {
    const left = colLeft[c], top = rowTop[r];
    const x = d3.scaleLinear().domain([-0.05 * P, 1.05 * P]).range([left, left + axW]);
    const y = d3.scaleLinear().domain(yLimits[r]).range([top + axH, top]);
    const clipId = "clip" + r + c;
    defs.append("clipPath").attr("id", clipId)
      .append("rect").attr("x", left).attr("y", top).attr("width", axW).attr("height", axH);

    const ax = svg.append("g");
    const plot = ax.append("g").attr("clip-path", "url(#" + clipId + ")");

    // RV points with error bars
    const pts = c === 0 ? subtracted[r] : included[r];
    drawOrder.forEach(k => {
      const g = plot.append("g");
      g.selectAll("g.pt").data(pts.filter(d => d[3] === k)).enter()
        .append("g").attr("class", "pt").attr("opacity", instAlpha[k])
        .each(function(d) {
          const s = d3.select(this);
          s.append("line")
            .attr("x1", x(d[0])).attr("x2", x(d[0]))
            .attr("y1", y(d[1] - d[2])).attr("y2", y(d[1] + d[2]))
            .attr("stroke", instColor[k]).attr("stroke-width", 1.7);
          s.append("circle")
            .attr("cx", x(d[0])).attr("cy", y(d[1])).attr("r", 3)
            .attr("fill", "#fff").attr("stroke", instColor[k]).attr("stroke-width", 1);
        });
    });

    // model curve
    plot.append("path")
      .datum(curves[r])
      .attr("d", d3.line().x(d => x(d[0])).y(d => y(d[1])).curve(d3.curveCatmullRom))
      .attr("fill", "none").attr("stroke", "#000").attr("stroke-width", 3.5);

    // binned points
    if (c === 1) {
      plot.selectAll("circle.bin").data(bins[r]).enter()
        .append("circle").attr("class", "bin")
        .attr("cx", d => x(d[0])).attr("cy", d => y(d[1])).attr("r", 3.3)
        .attr("fill", "#ffff00").attr("stroke", "#000").attr("stroke-width", 1);
    }

    // axes
    const yAxis = d3.axisLeft(y).tickValues(yTicks).tickSize(4.5).tickSizeOuter(0).tickPadding(4)
      .tickFormat(c === 0 ? d3.format("d") : () => "");
    const gy = ax.append("g").attr("transform", `translate(${left},0)`).call(yAxis);
    const xAxis = d3.axisBottom(x).tickValues(xTicks[r]).tickSize(4.5).tickSizeOuter(0).tickPadding(5.5)
      .tickFormat(d3.format("d"));
    const gx = ax.append("g").attr("transform", `translate(0,${top + axH})`).call(xAxis);
    [gx, gy].forEach(g => {
      g.select(".domain").remove();
      g.attr("font-size", baseFont).attr("font-family", "DejaVu Sans, sans-serif");
      g.selectAll("line").attr("stroke", "#000").attr("stroke-width", 1);
      g.selectAll("text").attr("fill", "#000");
    });

    // spines
    ax.append("rect")
      .attr("x", left).attr("y", top).attr("width", axW).attr("height", axH)
      .attr("fill", "none").attr("stroke", "#000").attr("stroke-width", 1);

    // x label
    ax.append("text")
      .attr("x", left + axW / 2).attr("y", top + axH + 45)
      .attr("text-anchor", "middle").attr("font-size", baseFont)
      .text("Phase (d)");

    if (c === 0) {
      ax.append("text")
        .attr("transform", `translate(23,${top + axH / 2}) rotate(-90)`)
        .attr("text-anchor", "middle").attr("font-size", baseFont)
        .text("RV (m/s)");

      // legend
      const lw = 150.6, lh = 34.6;
      const lx = left + axW - 9.5 - lw, ly = top + 8.5;
      const leg = ax.append("g");
      leg.append("rect")
        .attr("x", lx).attr("y", ly).attr("width", lw).attr("height", lh).attr("rx", 3)
        .attr("fill", "#fff").attr("fill-opacity", 0.8)
        .attr("stroke", "#d4d4d4").attr("stroke-width", 1);
      leg.append("line")
        .attr("x1", lx + 7).attr("x2", lx + 45.3)
        .attr("y1", ly + lh / 2).attr("y2", ly + lh / 2)
        .attr("stroke", "#000").attr("stroke-width", 3.5);
      leg.append("text")
        .attr("x", lx + 60.5).attr("y", ly + lh / 2 + 7)
        .attr("font-size", baseFont)
        .text(planets[r]);
    }

    if (r === 0) {
      ax.append("text")
        .attr("x", left + axW / 2).attr("y", 24)
        .attr("text-anchor", "middle").attr("font-size", 22.8)
        .text(columnTitles[c]);
    }
  }
}
</script>
</body>
</html>
